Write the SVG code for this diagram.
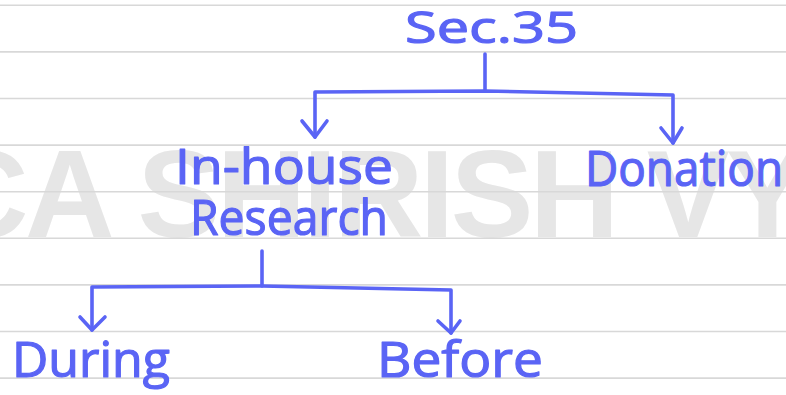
<svg xmlns="http://www.w3.org/2000/svg" width="786" height="395" viewBox="0 0 786 395">
<style>
.rule{stroke:#d8d8d8;stroke-width:1.6}
.wm{font-family:"Liberation Sans",Arial,sans-serif;font-weight:bold;font-size:124px;fill:#e6e6e6;letter-spacing:-3.5px}
.lbl{font-family:"Open Sans","DejaVu Sans",sans-serif;fill:#5a64f5;stroke:#5a64f5;stroke-width:1.2;stroke-linejoin:round}
.con{fill:none;stroke:#5a64f5;stroke-width:3.6;stroke-linecap:round;stroke-linejoin:round}
</style>
<rect width="786" height="395" fill="#ffffff"/>
<text class="wm" x="-61" y="237">CA SHIRISH VY</text>
<g id="rules">
<line class="rule" x1="0" y1="5.3" x2="786" y2="5.3"/>
<line class="rule" x1="0" y1="51.9" x2="786" y2="51.9"/>
<line class="rule" x1="0" y1="98.5" x2="786" y2="98.5"/>
<line class="rule" x1="0" y1="145.1" x2="786" y2="145.1"/>
<line class="rule" x1="0" y1="191.7" x2="786" y2="191.7"/>
<line class="rule" x1="0" y1="238.3" x2="786" y2="238.3"/>
<line class="rule" x1="0" y1="284.9" x2="786" y2="284.9"/>
<line class="rule" x1="0" y1="331.5" x2="786" y2="331.5"/>
<line class="rule" x1="0" y1="378.1" x2="786" y2="378.1"/>
</g>
<g id="connectors">
<path class="con" d="M485,54 L485,91"/>
<path class="con" d="M315,137 L315,92 L485,91 L673,95 L673,143"/>
<path class="con" d="M302,121 L315,137 L327,121"/>
<path class="con" d="M661,128 L673,143 L682,128"/>
<path class="con" d="M262,251 L262,286"/>
<path class="con" d="M92,330 L92,287 L262,286 L451,290 L451,333"/>
<path class="con" d="M80,317 L92,330 L105,317"/>
<path class="con" d="M438,321 L451,333 L460,321"/>
</g>
<g id="sec35"><text class="lbl" x="405" y="43" font-size="44" textLength="173" lengthAdjust="spacingAndGlyphs">Sec.35</text></g>
<g id="inhouse"><text class="lbl" x="175" y="184" font-size="50" textLength="218" lengthAdjust="spacingAndGlyphs">In-house</text><text class="lbl" x="190" y="235" font-size="50" textLength="198" lengthAdjust="spacingAndGlyphs">Research</text></g>
<g id="donation"><text class="lbl" x="585" y="186" font-size="50" textLength="198" lengthAdjust="spacingAndGlyphs">Donation</text></g>
<g id="during"><text class="lbl" x="12" y="377" font-size="50" textLength="158" lengthAdjust="spacingAndGlyphs">During</text></g>
<g id="before"><text class="lbl" x="377" y="377" font-size="50" textLength="166" lengthAdjust="spacingAndGlyphs">Before</text></g>
</svg>
